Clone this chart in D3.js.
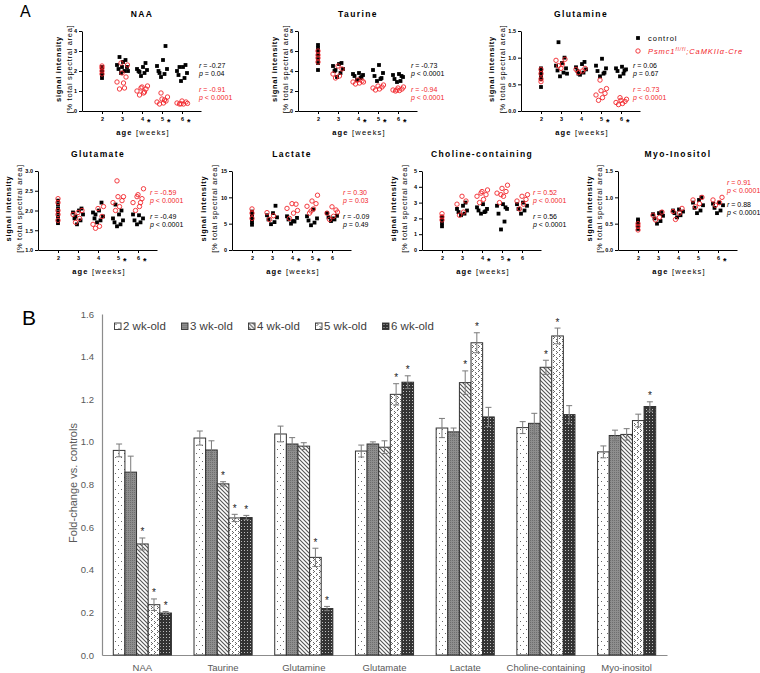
<!DOCTYPE html>
<html>
<head>
<meta charset="utf-8">
<script src="https://cdn.jsdelivr.net/npm/d3@7/dist/d3.min.js"></script>
<style>
body{margin:0;background:#fff}
svg{display:block;font-family:"Liberation Sans",Arial,sans-serif}
</style>
</head>
<body>
<script>
/* ---------- PANEL A data: one list per week (2..6 wk) ---------- */
const weeks = [2, 3, 4, 5, 6]

// control = black squares, mutant (Psmc1 fl/fl;CaMKIIa-Cre) = red circles
const naaCtrl = [[1.65,1.8,1.9,2.0,2.1,2.2],[1.9,2.0,2.1,2.2,2.3,2.45,2.55,2.7,2.0,2.2],[1.75,1.9,2.0,2.05,2.1,2.2,2.4,1.95],[1.7,1.85,2.0,2.1,2.25,2.55,3.25,1.9],[1.5,1.65,1.8,1.9,2.0,2.2,2.3,2.2]]
const naaMut = [[1.85,2.0,2.15,2.25],[1.1,1.4,1.45,1.7,1.9,2.3,2.4,1.15],[0.8,0.9,1.0,1.1,1.2,1.25,1.15,0.95],[0.35,0.4,0.45,0.5,0.6,0.7,0.9,0.55],[0.35,0.35,0.4,0.45,0.5,0.38,0.36]]
const taurineCtrl = [[4.1,4.8,5.2,5.6,6.0,6.3,6.6],[3.4,3.8,4.0,4.2,4.5,4.7,4.8,4.1],[3.1,3.3,3.5,3.6,3.7,3.8,3.4],[3.0,3.2,3.5,3.8,4.1,4.6,3.3],[2.9,3.0,3.2,3.4,3.6,3.7,3.5]]
const taurineMut = [[4.9,5.3,5.6,6.0],[3.3,3.5,3.7,4.2,4.5],[2.7,2.8,2.9,3.0,3.1,2.9],[2.1,2.2,2.3,2.4,2.5,2.6],[2.0,2.05,2.1,2.2,2.3,2.4,2.1]]
const glnCtrl = [[0.45,0.6,0.65,0.7,0.75,0.8],[0.65,0.72,0.76,0.8,0.85,0.9,1.0,1.29,0.7],[0.68,0.72,0.75,0.78,0.82,0.88,0.92,0.7],[0.65,0.7,0.75,0.8,0.85,0.98,0.72],[0.65,0.7,0.75,0.78,0.8,0.83,0.76]]
const glnMut = [[0.55,0.6,0.7,0.78],[0.85,0.88,0.95,0.97,0.8],[0.72,0.75,0.78,0.8],[0.2,0.25,0.3,0.33,0.38,0.42,0.58],[0.12,0.14,0.16,0.18,0.2,0.22,0.25]]
const gluCtrl = [[1.68,1.75,1.85,1.95,2.05,2.15,2.25],[1.65,1.75,1.8,1.9,1.95,2.0,2.05,1.85],[1.7,1.75,1.8,1.85,1.95,2.0,2.2,1.9],[1.6,1.65,1.7,1.75,1.8,1.9,2.0,2.15],[1.65,1.7,1.75,1.8,1.9,1.88]]
const gluMut = [[1.75,1.9,2.0,2.2,2.3],[1.7,1.8,1.9,2.0,1.95],[1.55,1.6,1.65,1.85,2.05,2.1],[2.0,2.1,2.2,2.25,2.35,2.35,2.75],[2.0,2.1,2.2,2.3,2.4,2.55,2.35,2.2]]
const lacCtrl = [[4.8,5.3,5.8,6.3,6.8,7.3],[4.9,5.3,5.8,6.2,6.6,7.0,8.4],[5.0,5.4,5.8,6.1,6.4,5.5],[4.7,5.2,5.6,6.0,6.4,7.7],[5.5,5.8,6.2,6.5,7.0,6.0]]
const lacMut = [[6.0,7.0,7.8],[5.8,6.5,7.1],[6.0,7.0,7.9,8.7,8.8,7.5],[7.0,7.8,8.3,8.8,9.3,10.4,7.4],[5.8,6.4,7.0,7.6,8.2,7.2]]
const choCtrl = [[1.5,1.7,1.9,2.0,2.1],[2.2,2.3,2.4,2.5,2.6,2.8,3.0],[2.3,2.4,2.5,2.6,2.7,2.9,2.45],[1.3,1.8,2.3,2.6,2.8,2.9,2.7],[2.3,2.5,2.6,2.8,2.9,3.0]]
const choMut = [[1.9,2.1,2.3],[2.2,2.4,2.9,3.1,3.4],[3.0,3.2,3.4,3.5,3.7,3.8,3.6],[3.0,3.4,3.6,3.7,3.9,4.1,3.5],[2.6,2.9,3.1,3.2,3.4,3.5]]
const myoCtrl = [[0.4,0.45,0.5,0.55,0.58],[0.5,0.55,0.6,0.65,0.68,0.7,0.72],[0.62,0.66,0.7,0.73,0.75,0.77],[0.7,0.75,0.8,0.85,0.9,0.95,1.0],[0.7,0.75,0.8,0.85,0.88,0.9]]
const myoMut = [[0.38,0.45,0.5],[0.57,0.62,0.66,0.72],[0.58,0.7,0.73,0.79],[0.82,0.88,0.95,1.0],[0.85,0.9,0.95,1.0]]

const plotTitles = ['NAA','Taurine','Glutamine','Glutamate','Lactate','Choline-containing','Myo-Inositol']
const rCtrl = ['-0.27','-0.73','0.06','-0.49','-0.09','0.56','0.88']
const pCtrl = ['= 0.04','< 0.0001','= 0.67','< 0.0001','= 0.49','< 0.0001','< 0.0001']
const rMut = ['-0.91','-0.94','-0.73','-0.59','0.30','0.52','0.91']
const pMut = ['< 0.0001','< 0.0001','< 0.0001','< 0.0001','= 0.03','< 0.0001','< 0.0001']
const starWeeks = [[4,5,6],[4,5,6],[5,6],[5,6],[4,5],[4,5],[6]]
const yDomains = [[0,4],[0,8],[0,1.5],[1,3],[0,15],[0,5],[0,1.5]]
const yTicks = [[0,1,2,3,4],[0,2,4,6,8],[0,0.5,1,1.5],[1,1.5,2,2.5,3],[0,5,10,15],[0,1,2,3,4,5],[0,0.5,1,1.5]]
const yFormats = ['d','d','.1f','.1f','d','d','.1f']

/* ---------- PANEL B data ---------- */
const metabolites = ['NAA','Taurine','Glutamine','Glutamate','Lactate','Choline-containing','Myo-inositol']
const ageGroups = ['2 wk-old','3 wk-old','4 wk-old','5 wk-old','6 wk-old']
const fold2 = [0.96, 1.018, 1.037, 0.957, 1.065, 1.067, 0.953]
const fold3 = [0.858, 0.962, 0.99, 0.99, 1.047, 1.087, 1.03]
const fold4 = [0.521, 0.803, 0.98, 0.975, 1.278, 1.35, 1.035]
const fold5 = [0.236, 0.643, 0.458, 1.223, 1.465, 1.497, 1.10]
const fold6 = [0.197, 0.645, 0.218, 1.28, 1.117, 1.128, 1.166]
const sem2 = [0.03, 0.033, 0.037, 0.028, 0.045, 0.028, 0.028]
const sem3 = [0.075, 0.043, 0.03, 0.01, 0.018, 0.047, 0.025]
const sem4 = [0.028, 0.01, 0.016, 0.03, 0.055, 0.033, 0.027]
const sem5 = [0.027, 0.017, 0.043, 0.05, 0.047, 0.037, 0.03]
const sem6 = [0.007, 0.01, 0.01, 0.03, 0.045, 0.042, 0.022]
const sig2 = [0,0,0,0,0,0,0]
const sig3 = [0,0,0,0,0,0,0]
const sig4 = [1,1,0,0,1,1,0]
const sig5 = [1,1,1,1,1,1,0]
const sig6 = [1,1,1,1,0,0,1]
const barTicks = [0, 0.2, 0.4, 0.6, 0.8, 1.0, 1.2, 1.4, 1.6]

const RED = '#f2262b'

let svg = d3.select('body').append('svg').attr('width', 760).attr('height', 673)

/* ---------- PANEL A ---------- */
svg.append('text').attr('x', 20).attr('y', 17).attr('font-size', 16).text('A')

// layout of the seven little plots (axis origin x, top, bottom, stats position)
const layout = [
    {x0: 82,  top: 31,  bot: 111, sx: 199, sy: [68, 92], lab: [-24, -13]},
    {x0: 298, top: 31,  bot: 111, sx: 411, sy: [68, 92], lab: [-24, -13]},
    {x0: 521, top: 31,  bot: 111, sx: 633, sy: [68, 92], lab: [-30, -19]},
    {x0: 38,  top: 171, bot: 250, sx: 150, sy: [219, 195], lab: [-30, -19]},
    {x0: 232, top: 171, bot: 250, sx: 343, sy: [219, 195], lab: [-29, -18]},
    {x0: 422, top: 171, bot: 250, sx: 533, sy: [219, 195], lab: [-29, -18]},
    {x0: 618, top: 171, bot: 250, sx: 727, sy: [207, 185], lab: [-29, -19]}
]
const ctrlSets = [naaCtrl, taurineCtrl, glnCtrl, gluCtrl, lacCtrl, choCtrl, myoCtrl]
const mutSets = [naaMut, taurineMut, glnMut, gluMut, lacMut, choMut, myoMut]

// horizontal scatter of the points around each week (no scatter at 2 wk)
const spreadC = [-1, 2.5, -3.5, 5, -5, 1, 3.5, -2.5, 6, 0]
const spreadM = [-2.5, 1.5, -5, 4, 0, 5.5, -1, 2.5, -4]

function statText(g, x, y, r, p, color) {
    let t = g.append('text').attr('x', x).attr('y', y).attr('font-size', 7).attr('fill', color)
    t.append('tspan').attr('font-style', 'italic').text('r')
    t.append('tspan').text(' = ' + r)
    let t2 = g.append('text').attr('x', x).attr('y', y + 8).attr('font-size', 7).attr('fill', color)
    t2.append('tspan').attr('font-style', 'italic').text('p')
    t2.append('tspan').text(' ' + p)
}

layout.forEach((L, k) => {
    const g = svg.append('g')
    const x = d3.scaleLinear().domain([1, 6.95]).range([L.x0, L.x0 + 119])
    const y = d3.scaleLinear().domain(yDomains[k]).range([L.bot, L.top])

    // axes
    g.append('g').attr('transform', `translate(${L.x0},0)`)
        .call(d3.axisLeft(y).tickValues(yTicks[k]).tickSize(3).tickPadding(2).tickSizeOuter(0).tickFormat(d3.format(yFormats[k])))
    g.append('g').attr('transform', `translate(0,${L.bot})`)
        .call(d3.axisBottom(x).tickValues(weeks).tickSize(3).tickPadding(3).tickSizeOuter(0).tickFormat(d3.format('d')))
    g.selectAll('.tick text').attr('font-size', 5.5).attr('font-weight', 'bold').attr('fill', '#000')
    g.selectAll('.domain, .tick line').attr('stroke', '#000').attr('stroke-width', 1)

    // stars next to the week labels
    g.selectAll('.wstar').data(starWeeks[k]).join('text')
        .attr('x', d => x(d) + 5).attr('y', L.bot + 13.5)
        .attr('font-size', 9).attr('font-weight', 'bold').text('*')

    // title
    g.append('text').attr('x', L.x0 + 60).attr('y', L.top - 14)
        .attr('text-anchor', 'middle').attr('font-size', 8.5).attr('font-weight', 'bold')
        .style('letter-spacing', '1.4px').text(plotTitles[k])

    // x title
    let xt = g.append('text').attr('x', L.x0 + 61).attr('y', L.bot + 24)
        .attr('text-anchor', 'middle').attr('font-size', 7.5).style('letter-spacing', '1.2px')
    xt.append('tspan').attr('font-weight', 'bold').text('age ')
    xt.append('tspan').text('[weeks]')

    // y titles
    const cy = (L.top + L.bot) / 2 - 2
    g.append('text').attr('transform', `translate(${L.x0 + L.lab[0] + 2.7},${cy}) rotate(-90)`)
        .attr('text-anchor', 'middle').attr('font-size', 7.5).attr('font-weight', 'bold')
        .style('letter-spacing', '0.7px').text('signal intensity')
    g.append('text').attr('transform', `translate(${L.x0 + L.lab[1] + 2.7},${cy}) rotate(-90)`)
        .attr('text-anchor', 'middle').attr('font-size', 7.5)
        .style('letter-spacing', '0.7px').text('[% total spectral area]')

    // points
    const ctrlPts = weeks.flatMap((w, wi) => ctrlSets[k][wi].map((v, i) => ({w, v, dx: w === 2 ? 0 : spreadC[i % spreadC.length]})))
    const mutPts = weeks.flatMap((w, wi) => mutSets[k][wi].map((v, i) => ({w, v, dx: w === 2 ? 0 : spreadM[i % spreadM.length]})))
    g.selectAll('rect.c').data(ctrlPts).join('rect').attr('class', 'c')
        .attr('x', d => x(d.w) + d.dx - 1.9).attr('y', d => y(d.v) - 1.9)
        .attr('width', 3.8).attr('height', 3.8).attr('fill', '#000')
    g.selectAll('circle.m').data(mutPts).join('circle').attr('class', 'm')
        .attr('cx', d => x(d.w) + d.dx).attr('cy', d => y(d.v)).attr('r', 2.2)
        .attr('fill', 'none').attr('stroke', RED).attr('stroke-width', 0.9)

    // stats
    statText(g, L.sx, L.sy[0], rCtrl[k], pCtrl[k], '#000')
    statText(g, L.sx, L.sy[1], rMut[k], pMut[k], RED)
})

// legend of panel A
const lg = svg.append('g')
lg.append('rect').attr('x', 636.1).attr('y', 36.1).attr('width', 3.8).attr('height', 3.8).attr('fill', '#000')
lg.append('text').attr('x', 648).attr('y', 41).attr('font-size', 7.5).style('letter-spacing', '1px').text('control')
lg.append('circle').attr('cx', 638).attr('cy', 51).attr('r', 2.2).attr('fill', 'none').attr('stroke', RED).attr('stroke-width', 0.9)
let lt = lg.append('text').attr('x', 648).attr('y', 54).attr('font-size', 7.5).attr('font-style', 'italic').attr('fill', RED).style('letter-spacing', '0.9px')
lt.append('tspan').text('Psmc1')
lt.append('tspan').attr('font-size', 5).attr('dy', -3).text('fl/fl')
lt.append('tspan').attr('dy', 3).text(';CaMKIIα-Cre')

/* ---------- PANEL B ---------- */
svg.append('text').attr('x', 22).attr('y', 325).attr('font-size', 21).text('B')

// fill patterns for the five age groups
const defs = svg.append('defs')
function pat(id, w, h, bg) {
    let p = defs.append('pattern').attr('id', id).attr('patternUnits', 'userSpaceOnUse').attr('width', w).attr('height', h)
    p.append('rect').attr('width', w).attr('height', h).attr('fill', bg)
    return p
}
function px(p, pts, c) { pts.forEach(d => p.append('rect').attr('x', d[0]).attr('y', d[1]).attr('width', 1).attr('height', 1).attr('fill', c)) }
let p0 = pat('pat0', 6, 8, '#fff'); px(p0, [[1,1],[4,5]], '#666')
let p1 = pat('pat1', 2, 2, '#8e8e8e'); px(p1, [[0,0]], '#6e6e6e')
let p2 = pat('pat2', 4, 4, '#fff')
p2.append('path').attr('d', 'M-1,-1L5,5M3,-1L5,1M-1,3L1,5').attr('stroke', '#555').attr('stroke-width', 1.1)
let p3 = pat('pat3', 6, 6, '#fff'); px(p3, [[1,0],[2,1],[1,2],[4,3],[5,4],[4,5]], '#666')
let p4 = pat('pat4', 3, 3, '#333'); px(p4, [[1,1]], '#bdbdbd')
const patIds = ['pat0', 'pat1', 'pat2', 'pat3', 'pat4']

const folds = [fold2, fold3, fold4, fold5, fold6]
const sems = [sem2, sem3, sem4, sem5, sem6]
const sigs = [sig2, sig3, sig4, sig5, sig6]

const bx = d3.scaleBand().domain(metabolites).range([102, 667]).paddingInner(0.28).paddingOuter(0.14)
const bx1 = d3.scaleBand().domain(ageGroups).range([0, bx.bandwidth()])
const by = d3.scaleLinear().domain([0, 1.6]).range([655, 314])

const gb = svg.append('g')
gb.append('g').attr('transform', 'translate(102,0)')
    .call(d3.axisLeft(by).tickValues(barTicks).tickSize(0).tickPadding(8).tickFormat(d3.format('.1f')))
gb.append('g').attr('transform', 'translate(0,655)')
    .call(d3.axisBottom(bx).tickSize(0).tickPadding(9))
gb.selectAll('.domain').attr('stroke', '#8c8c8c').attr('stroke-width', 1.2)
gb.selectAll('.tick text').attr('font-size', 9.5).attr('fill', '#595959')

gb.append('text').attr('transform', 'translate(77,483) rotate(-90)').attr('text-anchor', 'middle')
    .attr('font-size', 11).attr('fill', '#595959').text('Fold-change vs. controls')

const barData = metabolites.flatMap((m, mi) => ageGroups.map((a, ai) => ({m, a, ai, v: folds[ai][mi], e: sems[ai][mi], s: sigs[ai][mi]})))

gb.selectAll('rect.bar').data(barData).join('rect').attr('class', 'bar')
    .attr('x', d => bx(d.m) + bx1(d.a)).attr('y', d => by(d.v))
    .attr('width', bx1.bandwidth()).attr('height', d => by(0) - by(d.v))
    .attr('fill', d => `url(#${patIds[d.ai]})`).attr('stroke', '#333').attr('stroke-width', 1)

const ex = d => bx(d.m) + bx1(d.a) + bx1.bandwidth() / 2
const eb = gb.selectAll('g.err').data(barData).join('g').attr('class', 'err')
    .attr('stroke', '#7a7a7a').attr('stroke-width', 1)
eb.append('line').attr('x1', ex).attr('x2', ex).attr('y1', d => by(d.v - d.e)).attr('y2', d => by(d.v + d.e))
eb.append('line').attr('x1', d => ex(d) - 3).attr('x2', d => ex(d) + 3).attr('y1', d => by(d.v + d.e)).attr('y2', d => by(d.v + d.e))
eb.append('line').attr('x1', d => ex(d) - 3).attr('x2', d => ex(d) + 3).attr('y1', d => by(d.v - d.e)).attr('y2', d => by(d.v - d.e))

gb.selectAll('text.sig').data(barData.filter(d => d.s)).join('text').attr('class', 'sig')
    .attr('x', ex).attr('y', d => by(d.v + d.e) - 2.5).attr('text-anchor', 'middle')
    .attr('font-size', 10).attr('fill', '#222').text('*')

// legend
const leg = gb.selectAll('g.leg').data(ageGroups).join('g').attr('class', 'leg')
    .attr('transform', (d, i) => `translate(${114.5 + i * 67},323)`)
leg.append('rect').attr('width', 6.5).attr('height', 6.5).attr('fill', (d, i) => `url(#${patIds[i]})`).attr('stroke', '#333').attr('stroke-width', 0.9)
leg.append('text').attr('x', 8.5).attr('y', 7.3).attr('font-size', 11.5).attr('fill', '#404040').text(d => d)
</script>
</body>
</html>
